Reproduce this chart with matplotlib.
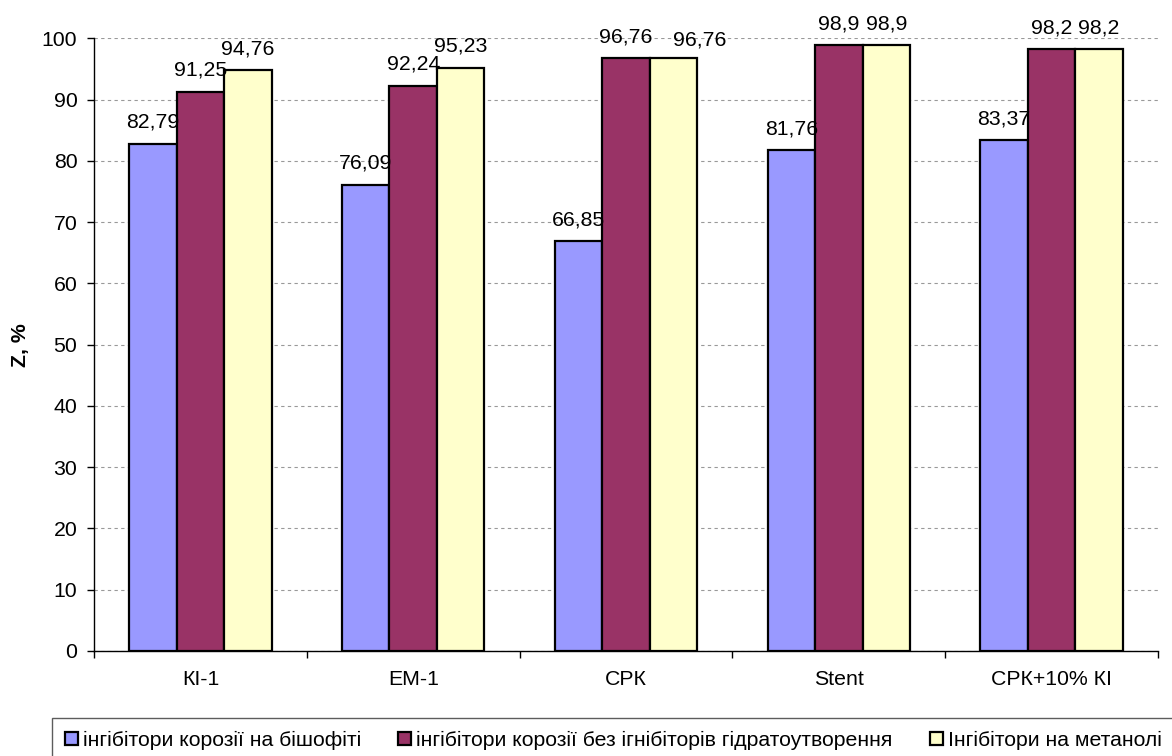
import matplotlib
matplotlib.use("Agg")
import matplotlib.pyplot as plt
import numpy as np

categories = ["КІ-1", "ЕМ-1", "СРК", "Stent", "СРК+10% КІ"]
series_names = ["інгібітори корозії на бішофіті",
                "інгібітори корозії без ігнібіторів гідратоутворення",
                "Інгібітори на метанолі"]
bishofit = [82.79, 76.09, 66.85, 81.76, 83.37]
no_hydrate = [91.25, 92.24, 96.76, 98.9, 98.2]
methanol = [94.76, 95.23, 96.76, 98.9, 98.2]
colors = ["#9999FF", "#993366", "#FFFFCC"]

plt.rcParams['font.family'] = ['Liberation Sans', 'DejaVu Sans']
FS = 15.3

fig = plt.figure(figsize=(11.72, 7.56), dpi=100)
ax = fig.add_axes([94/1172, 1-651/756, (1158-94)/1172, (651-38.3)/756])

# label nudges (series index, category index) -> offset in points
label_nudge = {(2, 2): (19, -2.5)}

x = np.arange(len(categories))
w = 0.223
series = [bishofit, no_hydrate, methanol]
for i, (vals, c, name) in enumerate(zip(series, colors, series_names)):
    pos = x + (i - 1) * w
    ax.bar(pos, vals, width=w, color=c, edgecolor='black', linewidth=1.6,
           label=name, zorder=3)
    for j, (p, v) in enumerate(zip(pos, vals)):
        dx, dy = label_nudge.get((i, j), (0, 0))
        ax.annotate(f"{v:g}".replace('.', ','), (p, v), xytext=(dx, 11.5 + dy),
                    textcoords='offset points', ha='center', va='baseline',
                    fontsize=FS, zorder=4)

ax.set_xlim(-0.5, len(categories) - 0.5)
ax.set_ylim(0, 100)
ax.set_yticks(np.arange(0, 101, 10))
ax.yaxis.grid(True, linestyle=(0, (3, 3)), color='#999999', linewidth=0.8, zorder=0)
ax.set_xticks(x)
ax.set_xticklabels(categories, fontsize=FS)
ax.set_xticks(np.arange(-0.5, len(categories), 1), minor=True)
ax.tick_params(axis='x', which='major', length=0, pad=14)
ax.tick_params(axis='x', which='minor', length=5, width=1, color='black')
ax.tick_params(axis='y', labelsize=FS, length=5, width=1, pad=7)
for s in ['top', 'right']:
    ax.spines[s].set_visible(False)
for s in ['left', 'bottom']:
    ax.spines[s].set_linewidth(1)
    ax.spines[s].set_color('black')

ax.set_ylabel("Z, %", fontsize=FS, fontweight='bold')
ax.yaxis.set_label_coords(-0.060, 0.5)

leg = fig.legend(loc='upper left', bbox_to_anchor=(52/1172, 1-718/756), ncol=3,
                 fontsize=FS, frameon=True, fancybox=False, edgecolor='#333333',
                 handlelength=0.61, handleheight=0.61, handletextpad=0.24,
                 columnspacing=1.75, borderpad=0.6, borderaxespad=0)
leg.get_frame().set_linewidth(1)

fig.savefig("out.png", dpi=100)
